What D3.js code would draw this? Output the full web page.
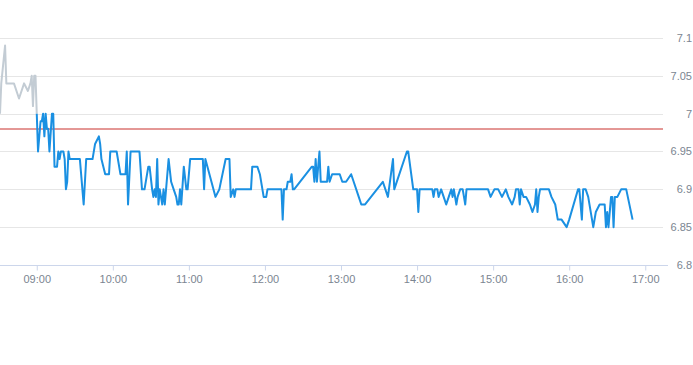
<!DOCTYPE html>
<html>
<head>
<meta charset="utf-8">
<script src="https://cdn.jsdelivr.net/npm/d3@7"></script>
<style>
  html, body { margin: 0; padding: 0; background: #fff; }
  svg { display: block; }
  text { font-family: "Liberation Sans", Arial, sans-serif; }
</style>
</head>
<body>
<svg id="chart" width="693" height="365"></svg>
<script>
// ---- data ----
const preTimes = ["08:31","08:32","08:35","08:36","08:42","08:46","08:50","08:53","08:55","08:56","08:57","08:58","08:59","09:00"];
const preValues = [7.00,7.04,7.09,7.04,7.04,7.02,7.04,7.03,7.04,7.05,7.01,7.05,7.05,7.00];

const times = ["09:00","09:01","09:03","09:04","09:05","09:06","09:07","09:08","09:09","09:10","09:12","09:13","09:14","09:16","09:17","09:18","09:19","09:21","09:22","09:23","09:24","09:25","09:26","09:34","09:37","09:39","09:44","09:46","09:49","09:50","09:51","09:54","09:57","09:58",
"10:03","10:06","10:10","10:11","10:12","10:14","10:21","10:23","10:25","10:28","10:29","10:31","10:32","10:33","10:34","10:35","10:36","10:37","10:38","10:39","10:40","10:41","10:44","10:46","10:48","10:50","10:51","10:52","10:53","10:54","10:56","10:58","10:59",
"11:01","11:11","11:12","11:13","11:21","11:24","11:29","11:32","11:33","11:35","11:36","11:37","11:49","11:50","11:54","11:56","11:59",
"12:01","12:02","12:13","12:14","12:15","12:17","12:18","12:20","12:21","12:22","12:23","12:37","12:38","12:39","12:40","12:41","12:43","12:44","12:49","12:50","12:51","12:53","12:59",
"13:01","13:04","13:08","13:10","13:14","13:16","13:19","13:33","13:37","13:41","13:42","13:52","13:53","13:57",
"14:00","14:01","14:02","14:12","14:13","14:14","14:16","14:17","14:19","14:21","14:23","14:25","14:27","14:28","14:29","14:31","14:32","14:34","14:36","14:37","14:38","14:39","14:56","14:58",
"15:01","15:04","15:07","15:10","15:12","15:15","15:17","15:18","15:20","15:21","15:22","15:24","15:26","15:29","15:31","15:33","15:34","15:35","15:36","15:37","15:44","15:46","15:49","15:51","15:54","15:58",
"16:00","16:07","16:08","16:10","16:11","16:13","16:15","16:19","16:21","16:24","16:28","16:29","16:30","16:31","16:33","16:34","16:35","16:36","16:38","16:41","16:45","16:50"];
const values = [7.00,6.95,6.99,6.99,7.00,6.97,7.00,6.98,6.98,6.95,7.00,7.00,6.93,6.93,6.95,6.94,6.95,6.95,6.94,6.90,6.91,6.95,6.94,6.94,6.88,6.94,6.94,6.96,6.97,6.96,6.94,6.92,6.92,6.95,
6.95,6.92,6.92,6.95,6.88,6.95,6.95,6.90,6.90,6.93,6.93,6.90,6.89,6.90,6.89,6.94,6.88,6.90,6.89,6.88,6.90,6.88,6.94,6.91,6.90,6.89,6.88,6.88,6.90,6.88,6.93,6.90,6.90,
6.94,6.94,6.90,6.94,6.89,6.90,6.94,6.94,6.89,6.90,6.89,6.90,6.90,6.93,6.93,6.92,6.89,
6.89,6.90,6.90,6.86,6.90,6.90,6.91,6.91,6.92,6.90,6.90,6.93,6.93,6.91,6.94,6.91,6.95,6.91,6.91,6.93,6.91,6.92,6.92,
6.91,6.91,6.92,6.91,6.89,6.88,6.88,6.91,6.89,6.94,6.90,6.95,6.95,6.90,
6.90,6.87,6.90,6.90,6.89,6.90,6.90,6.89,6.90,6.89,6.88,6.89,6.90,6.89,6.90,6.88,6.89,6.90,6.90,6.89,6.88,6.90,6.90,6.89,
6.90,6.90,6.89,6.90,6.89,6.88,6.89,6.90,6.90,6.88,6.90,6.89,6.89,6.88,6.87,6.88,6.90,6.87,6.89,6.90,6.90,6.89,6.88,6.86,6.86,6.85,
6.86,6.90,6.90,6.86,6.90,6.90,6.89,6.85,6.87,6.88,6.88,6.85,6.87,6.85,6.89,6.89,6.85,6.89,6.89,6.90,6.90,6.86];

const prevClose = 6.98;
const yTicks = [6.8, 6.85, 6.9, 6.95, 7, 7.05, 7.1];
const xTickLabels = ["09:00","10:00","11:00","12:00","13:00","14:00","15:00","16:00","17:00"];
const domainStart = "08:31";
const domainEnd = "17:14";

// ---- helpers ----
const parse = s => { const [h, m] = s.split(":").map(Number); return new Date(2024, 0, 2, h, m); };

const svg = d3.select("#chart");
const plotLeft = 0, plotRight = 663, plotTop = 38, plotBottom = 265;
const labelColor = "#7b8591";

const x = d3.scaleTime().domain([parse(domainStart), parse(domainEnd)]).range([plotLeft, plotRight]);
const y = d3.scaleLinear().domain([6.8, 7.1]).range([plotBottom, plotTop]);

// grid lines
svg.append("g").selectAll("line").data(yTicks.filter(v => v !== 6.8)).join("line")
  .attr("x1", plotLeft).attr("x2", plotRight)
  .attr("y1", d => Math.round(y(d)) + 0.5).attr("y2", d => Math.round(y(d)) + 0.5)
  .attr("stroke", "#e6e6e6").attr("stroke-width", 1);

// y labels (right side)
svg.append("g").selectAll("text").data(yTicks).join("text")
  .attr("x", 692).attr("y", d => y(d)).attr("dy", "0.35em")
  .attr("text-anchor", "end").attr("font-size", 11).attr("fill", labelColor)
  .text(d => d3.format("~g")(d));

// x axis
const xAxis = d3.axisBottom(x)
  .tickValues(xTickLabels.map(parse))
  .tickFormat(d3.timeFormat("%H:%M"))
  .tickSize(5).tickSizeOuter(0);
const gx = svg.append("g").attr("transform", `translate(0,${Math.round(plotBottom) + 0.5})`).call(xAxis);
gx.select(".domain").attr("stroke", "#ccd6eb").attr("d", `M${plotLeft},0H${plotRight + 5}`);
gx.selectAll(".tick line").attr("stroke", "#ccd6eb");
gx.selectAll(".tick text").attr("fill", labelColor).attr("font-size", 11)
  .attr("font-family", '"Liberation Sans", Arial, sans-serif').attr("dy", "0.9em");

// previous close line
svg.append("line")
  .attr("x1", plotLeft).attr("x2", plotRight)
  .attr("y1", Math.round(y(prevClose))).attr("y2", Math.round(y(prevClose)))
  .attr("stroke", "#c9302c").attr("stroke-width", 1);

const line = d3.line().x(d => x(d.t)).y(d => y(d.v));

// pre-market series
svg.append("path")
  .datum(preTimes.map((t, i) => ({ t: parse(t), v: preValues[i] })))
  .attr("fill", "none").attr("stroke", "#c3ccd4").attr("stroke-width", 2)
  .attr("stroke-linejoin", "round").attr("d", line);

// main session series
svg.append("path")
  .datum(times.map((t, i) => ({ t: parse(t), v: values[i] })))
  .attr("fill", "none").attr("stroke", "#1a90e2").attr("stroke-width", 2)
  .attr("stroke-linejoin", "round").attr("d", line);
</script>
</body>
</html>
